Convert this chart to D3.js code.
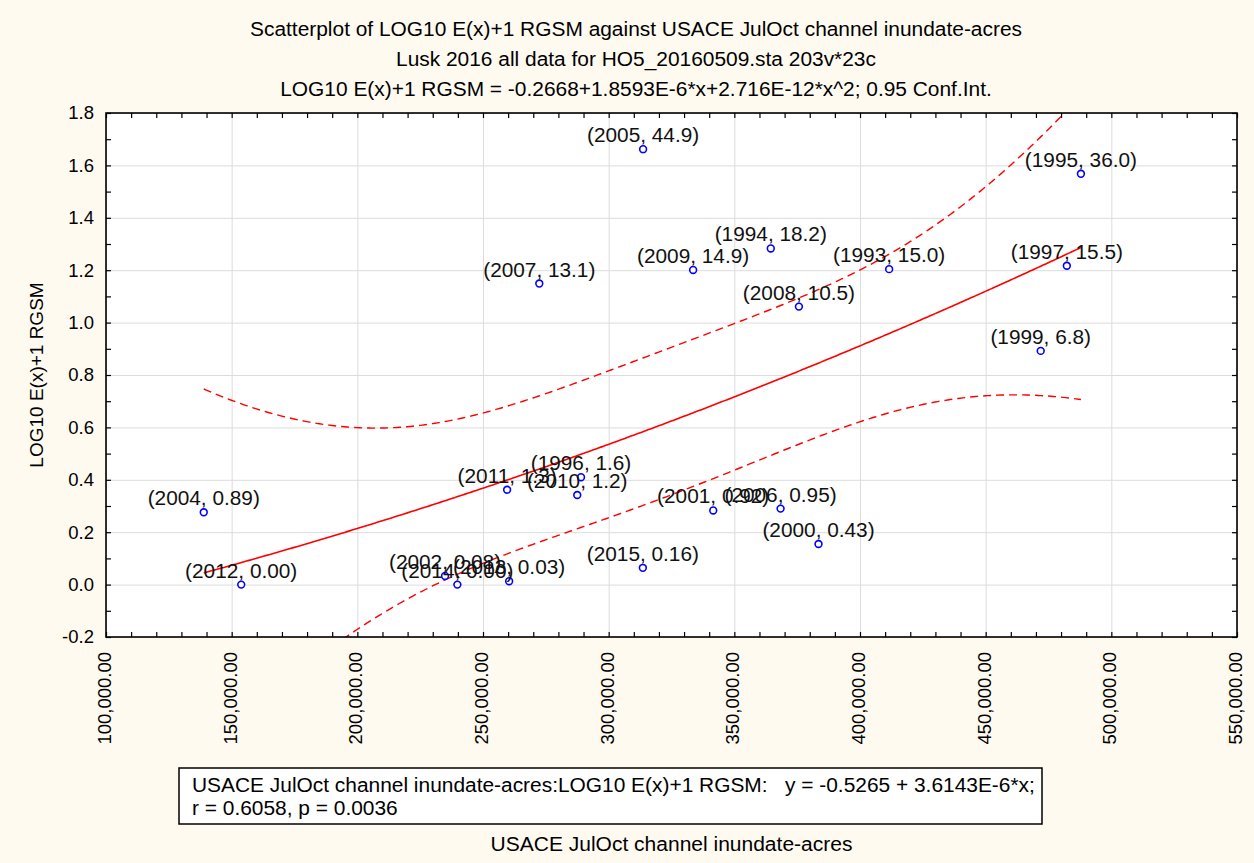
<!DOCTYPE html>
<html>
<head>
<meta charset="utf-8">
<script src="https://cdn.jsdelivr.net/npm/d3@7"></script>
<style>
  body { margin: 0; background: #fffaf0; }
  svg { display: block; font-family: "Liberation Sans", Arial, sans-serif; }
</style>
</head>
<body>
<svg id="chart" width="1254" height="863"></svg>
<script>
// data: year, raw E(x) value, acres and LOG10 E(x)+1
var years = [2005, 2007, 2009, 1994, 2008, 1993, 1995, 1997, 1999, 2004, 2012,
             2002, 2014, 2013, 2011, 2010, 1996, 2001, 2006, 2000, 2015];
var rawValues = ["44.9", "13.1", "14.9", "18.2", "10.5", "15.0", "36.0", "15.5", "6.8", "0.89", "0.00",
                 "0.08", "0.00", "0.03", "1.3", "1.2", "1.6", "0.92", "0.95", "0.43", "0.16"];
var acres = [313700, 272400, 333600, 364500, 375700, 411600, 487900, 482300, 471900, 138900, 153800,
             234900, 239800, 260400, 259600, 287500, 289000, 341600, 368400, 383500, 313600];
var logValues = [1.662, 1.149, 1.201, 1.283, 1.061, 1.204, 1.568, 1.217, 0.892, 0.276, 0.000,
                 0.033, 0.000, 0.013, 0.362, 0.342, 0.410, 0.283, 0.290, 0.155, 0.064];

var xTickValues = [100000, 150000, 200000, 250000, 300000, 350000, 400000, 450000, 500000, 550000];
var yTickValues = [-0.2, 0.0, 0.2, 0.4, 0.6, 0.8, 1.0, 1.2, 1.4, 1.6, 1.8];

var titleLines = [
  "Scatterplot of LOG10 E(x)+1 RGSM against USACE JulOct channel inundate-acres",
  "Lusk 2016 all data for HO5_20160509.sta 203v*23c",
  "LOG10 E(x)+1 RGSM = -0.2668+1.8593E-6*x+2.716E-12*x^2; 0.95 Conf.Int."
];
var boxLines = [
  "USACE JulOct channel inundate-acres:LOG10 E(x)+1 RGSM:   y = -0.5265 + 3.6143E-6*x;",
  "r = 0.6058, p = 0.0036"
];
var xTitle = "USACE JulOct channel inundate-acres";
var yTitle = "LOG10 E(x)+1 RGSM";
var tCrit = 2.1009; // t(0.975, df = 18)

var svg = d3.select("#chart"),
    plot = { left: 106, top: 113, right: 1237, bottom: 637 };

var locale = d3.formatLocale({ decimal: ".", thousands: ",", grouping: [3], currency: ["", ""], minus: "-" }),
    fmtX = locale.format(",.2f"),
    fmtY = locale.format(".1f");

var x = d3.scaleLinear().domain([100000, 550000]).range([plot.left, plot.right]),
    y = d3.scaleLinear().domain([-0.2, 1.8]).range([plot.bottom, plot.top]);

var points = years.map(function (yr, i) {
  return { year: yr, raw: rawValues[i], x: acres[i], y: logValues[i] };
});

function _stretch(sel, k) {
  sel.each(function () {
    var w = this.getComputedTextLength();
    d3.select(this).attr("textLength", w * k).attr("lengthAdjust", "spacingAndGlyphs");
  });
}

// plot background
svg.append("rect")
   .attr("x", plot.left).attr("y", plot.top)
   .attr("width", plot.right - plot.left).attr("height", plot.bottom - plot.top)
   .attr("fill", "#ffffff");

// grid
svg.append("g")
   .attr("transform", "translate(0," + plot.bottom + ")")
   .call(d3.axisBottom(x).tickValues(xTickValues).tickSize(-(plot.bottom - plot.top)).tickFormat(""))
   .call(function (g) { g.select(".domain").remove(); })
   .selectAll("line").attr("stroke", "#dcdcdc");
svg.append("g")
   .attr("transform", "translate(" + plot.left + ",0)")
   .call(d3.axisLeft(y).tickValues(yTickValues).tickSize(-(plot.right - plot.left)).tickFormat(""))
   .call(function (g) { g.select(".domain").remove(); })
   .selectAll("line").attr("stroke", "#dcdcdc");

// minor ticks, all pointing inward
var xMinor = d3.range(10, 56).map(function (k) { return k * 10000; }),
    yMinor = d3.range(-2, 19).map(function (k) { return k / 10; });

function _minor(axis, tx, ty, vals) {
  svg.append("g")
     .attr("transform", "translate(" + tx + "," + ty + ")")
     .call(axis.tickValues(vals).tickSize(-5).tickFormat(""))
     .call(function (g) { g.select(".domain").remove(); })
     .selectAll("line").attr("stroke", "#000").attr("stroke-width", 1.2);
}
_minor(d3.axisBottom(x), 0, plot.bottom, xMinor);
_minor(d3.axisTop(x), 0, plot.top, xMinor);
_minor(d3.axisLeft(y), plot.left, 0, yMinor);
_minor(d3.axisRight(y), plot.right, 0, yMinor);

// tick labels
var xAxis = svg.append("g")
   .attr("transform", "translate(0," + plot.bottom + ")")
   .call(d3.axisBottom(x).tickValues(xTickValues).tickSize(0).tickFormat(fmtX));
xAxis.select(".domain").remove();
xAxis.selectAll("text")
     .attr("transform", "rotate(-90)")
     .attr("text-anchor", "end")
     .attr("x", -15).attr("y", 0).attr("dy", "0.25em")
     .attr("fill", "#000")
     .style("font-size", "18.5px");

var yAxis = svg.append("g")
   .attr("transform", "translate(" + plot.left + ",0)")
   .call(d3.axisLeft(y).tickValues(yTickValues).tickSize(0).tickPadding(12).tickFormat(fmtY));
yAxis.select(".domain").remove();
yAxis.selectAll("text").attr("fill", "#000").style("font-size", "18.5px");

// quadratic least squares fit with 0.95 confidence band
var u = acres.map(function (v) { return v / 1e5; }),
    n = u.length,
    S = [0, 0, 0, 0, 0], T = [0, 0, 0];
u.forEach(function (ui, i) {
  for (var p = 0; p < 5; p++) S[p] += Math.pow(ui, p);
  for (var q = 0; q < 3; q++) T[q] += Math.pow(ui, q) * logValues[i];
});
var XtX = [[S[0], S[1], S[2]], [S[1], S[2], S[3]], [S[2], S[3], S[4]]];

function _inv3(m) {
  var a = m[0][0], b = m[0][1], c = m[0][2],
      d = m[1][0], e = m[1][1], f = m[1][2],
      g = m[2][0], h = m[2][1], i = m[2][2];
  var A = e * i - f * h, B = -(d * i - f * g), C = d * h - e * g,
      D = -(b * i - c * h), E = a * i - c * g, F = -(a * h - b * g),
      G = b * f - c * e, H = -(a * f - c * d), I = a * e - b * d,
      det = a * A + b * B + c * C;
  return [[A, D, G], [B, E, H], [C, F, I]].map(function (r) {
    return r.map(function (v) { return v / det; });
  });
}
var Minv = _inv3(XtX),
    beta = Minv.map(function (r) { return r[0] * T[0] + r[1] * T[1] + r[2] * T[2]; });

function _pred(ui) { return beta[0] + beta[1] * ui + beta[2] * ui * ui; }

var sse = d3.sum(u, function (ui, i) { return Math.pow(logValues[i] - _pred(ui), 2); }),
    mse = sse / (n - 3);

function _se(ui) {
  var v = [1, ui, ui * ui], s = 0;
  for (var r = 0; r < 3; r++) for (var c = 0; c < 3; c++) s += v[r] * Minv[r][c] * v[c];
  return Math.sqrt(mse * s);
}

var xMin = d3.min(acres), xMax = d3.max(acres),
    xs = d3.range(xMin, xMax, 1000).concat([xMax]);
var curve = xs.map(function (v) {
  var ui = v / 1e5, f = _pred(ui), h = tCrit * _se(ui);
  return { x: v, fit: f, lo: f - h, hi: f + h };
});

svg.append("clipPath").attr("id", "clip")
   .append("rect")
   .attr("x", plot.left).attr("y", plot.top)
   .attr("width", plot.right - plot.left).attr("height", plot.bottom - plot.top);

var lines = svg.append("g").attr("clip-path", "url(#clip)");
function _line(key) {
  return d3.line().x(function (d) { return x(d.x); }).y(function (d) { return y(d[key]); });
}
lines.append("path").datum(curve)
     .attr("d", _line("fit"))
     .attr("fill", "none").attr("stroke", "#ff0000").attr("stroke-width", 1.6);
["lo", "hi"].forEach(function (key) {
  lines.append("path").datum(curve)
       .attr("d", _line(key))
       .attr("fill", "none").attr("stroke", "#ff0000").attr("stroke-width", 1.4)
       .attr("stroke-dasharray", "8,5");
});

// points and labels
svg.append("g").selectAll("circle").data(points).enter()
   .append("circle")
   .attr("cx", function (d) { return x(d.x); })
   .attr("cy", function (d) { return y(d.y); })
   .attr("r", 3.4)
   .attr("fill", "#fff").attr("stroke", "#0000ff").attr("stroke-width", 1.6);

svg.append("g").selectAll("text").data(points).enter()
   .append("text")
   .attr("x", function (d) { return x(d.x); })
   .attr("y", function (d) { return y(d.y) - 7; })
   .attr("text-anchor", "middle")
   .attr("fill", "#111")
   .style("font-size", "20px")
   .text(function (d) { return "(" + d.year + ", " + d.raw + ")"; })
   .call(_stretch, 1.04);

// frame
svg.append("rect")
   .attr("x", plot.left).attr("y", plot.top)
   .attr("width", plot.right - plot.left).attr("height", plot.bottom - plot.top)
   .attr("fill", "none").attr("stroke", "#000").attr("stroke-width", 1.6);

// titles
svg.append("g").selectAll("text").data(titleLines).enter()
   .append("text")
   .attr("x", 636)
   .attr("y", function (d, i) { return 36 + i * 30; })
   .attr("text-anchor", "middle")
   .style("font-size", "20px")
   .text(function (d) { return d; })
   .call(_stretch, 1.045);

svg.append("text")
   .attr("x", (plot.left + plot.right) / 2).attr("y", 851)
   .attr("text-anchor", "middle")
   .style("font-size", "20px")
   .text(xTitle)
   .call(_stretch, 1.05);

svg.append("text")
   .attr("transform", "translate(43," + (plot.top + plot.bottom) / 2 + ") rotate(-90)")
   .attr("text-anchor", "middle")
   .style("font-size", "19px")
   .text(yTitle);

// regression box
svg.append("rect")
   .attr("x", 179).attr("y", 768).attr("width", 863).attr("height", 56)
   .attr("fill", "#fff").attr("stroke", "#000").attr("stroke-width", 1.5);
svg.append("g").selectAll("text").data(boxLines).enter()
   .append("text")
   .attr("x", 192)
   .attr("y", function (d, i) { return 792 + i * 23; })
   .style("font-size", "20px")
   .style("white-space", "pre")
   .attr("xml:space", "preserve")
   .text(function (d) { return d; })
   .call(_stretch, 1.045);
</script>
</body>
</html>
